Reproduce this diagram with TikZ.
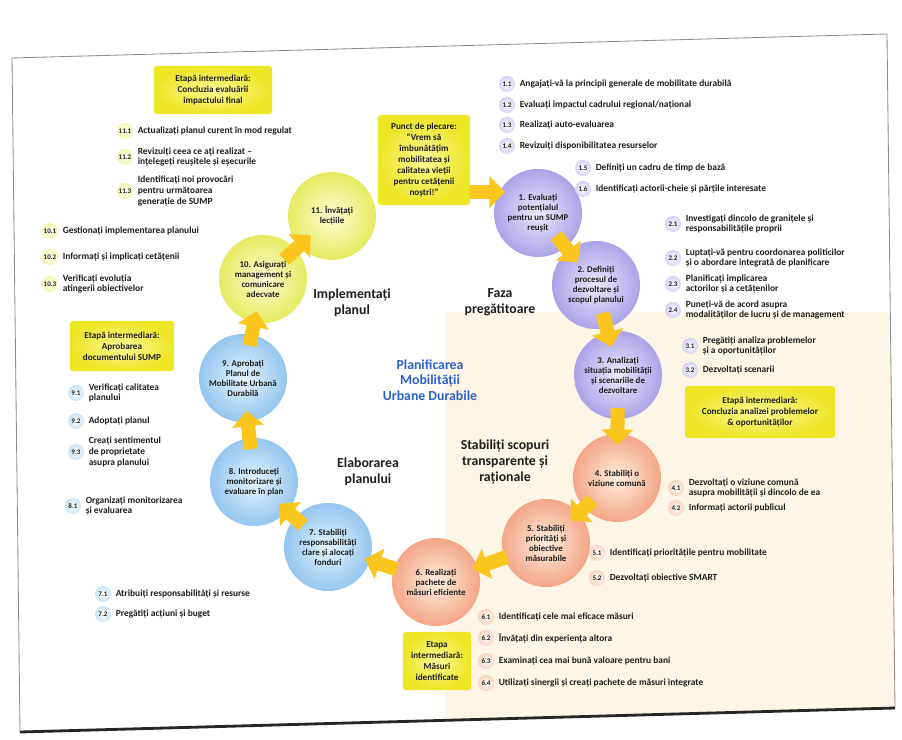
\documentclass[tikz,border=0pt]{standalone}
\usepackage{fontspec}
\setmainfont{Carlito}
\usetikzlibrary{arrows.meta}
\usetikzlibrary{shapes}
\usetikzlibrary{arrows,positioning}

\definecolor{prepOuter}{RGB}{172,162,232}
\definecolor{prepInner}{RGB}{236,233,252}
\definecolor{goalOuter}{RGB}{244,166,134}
\definecolor{goalInner}{RGB}{255,238,224}
\definecolor{elabOuter}{RGB}{148,198,240}
\definecolor{elabInner}{RGB}{230,243,253}
\definecolor{implOuter}{RGB}{230,234,96}
\definecolor{implInner}{RGB}{252,252,212}
\definecolor{noteOuter}{RGB}{236,230,36}
\definecolor{noteInner}{RGB}{250,248,150}
\definecolor{arrowYellow}{RGB}{250,198,30}
\definecolor{cream}{RGB}{253,245,230}
\definecolor{titleBlue}{RGB}{45,95,205}
\definecolor{inkGray}{RGB}{30,30,30}

\tikzset{%
  % Specifications for style of nodes:
          stage/.style = {circle, minimum size=2.2cm, inner sep=1pt,
                          align=center, text=inkGray,
                          font=\fontsize{6.3}{7.1}\selectfont\bfseries},
      stagePrep/.style = {stage, inner color=prepInner, outer color=prepOuter},
      stageGoal/.style = {stage, inner color=goalInner, outer color=goalOuter},
      stageElab/.style = {stage, inner color=elabInner, outer color=elabOuter},
      stageImpl/.style = {stage, inner color=implInner, outer color=implOuter},
          badge/.style = {circle, minimum size=0.4cm, inner sep=0pt, text=inkGray,
                          font=\fontsize{5}{5.5}\selectfont\bfseries},
      badgePrep/.style = {badge, inner color=white, outer color=prepInner!65!prepOuter},
      badgeGoal/.style = {badge, inner color=white, outer color=goalInner!65!goalOuter},
      badgeElab/.style = {badge, inner color=white, outer color=elabInner!65!elabOuter},
      badgeImpl/.style = {badge, inner color=white, outer color=implInner!65!implOuter},
        subtext/.style = {align=left, inner sep=1pt, text=inkGray,
                          font=\fontsize{6.7}{7.6}\selectfont\bfseries},
           note/.style = {rectangle, rounded corners=2pt, align=center, text=inkGray,
                          inner color=noteInner, outer color=noteOuter,
                          font=\fontsize{6.5}{7.8}\selectfont\bfseries},
          phase/.style = {align=center, text=inkGray,
                          font=\fontsize{9.8}{11.2}\selectfont\bfseries},
           flow/.style = {draw=arrowYellow, line width=10pt,
                          -{Triangle[width=22pt,length=11pt]},
                          shorten <=-8pt, shorten >=-8pt},
}

\begin{document}
\begin{tikzpicture}[x=0.025cm, y=-0.025cm]

\useasboundingbox (0,0) rectangle (902,740);
\fill[white] (0,0) rectangle (902,740);

% scanned page
\begin{scope}
  \clip (12,58) -- (887,34) -- (895,708) -- (20,732) -- cycle;
  \fill[cream] (445,312) rectangle (902,740);
\end{scope}
\draw[black!45, line width=0.6pt] (12,58) -- (887,34) -- (895,708) -- (20,732) -- cycle;
\draw[black!85, line width=2pt] (20,732) -- (895,708);

% cycle of stages
\node (P1)  [stagePrep] at (538,213) {1. Evaluați\\potențialul\\pentru un SUMP\\reușit};
\node (P2)  [stagePrep] at (596,285) {2. Definiți\\procesul de\\dezvoltare și\\scopul planului};
\node (P3)  [stagePrep] at (618,375) {3. Analizați\\situația mobilității\\și scenariile de\\dezvoltare};
\node (P4)  [stageGoal] at (617,478) {4. Stabiliți o\\viziune comună};
\node (P5)  [stageGoal] at (546,543) {5. Stabiliți\\priorități și\\obiective\\măsurabile};
\node (P6)  [stageGoal] at (436,582) {6. Realizați\\pachete de\\măsuri eficiente};
\node (P7)  [stageElab] at (328,547) {7. Stabiliți\\responsabilități\\clare și alocați\\fonduri};
\node (P8)  [stageElab] at (254,482) {8. Introduceți\\monitorizare și\\evaluare în plan};
\node (P9)  [stageElab] at (243,378) {9. Aprobați\\Planul de\\Mobilitate Urbană\\Durabilă};
\node (P10) [stageImpl] at (263,279) {10. Asigurați\\management și\\comunicare\\adecvate};
\node (P11) [stageImpl] at (332,216) {11. Învățați\\lecțiile};

% phases
\node (Impl)   [phase] at (352,303) {Implementați\\planul};
\node (Prep)   [phase] at (500,302) {Faza\\pregătitoare};
\node (Title)  [phase, text=titleBlue] at (430,380) {Planificarea\\Mobilității\\Urbane Durabile};
\node (Goal)   [phase] at (505,462) {Stabiliți scopuri\\transparente și\\raționale};
\node (Elab)   [phase] at (368,472) {Elaborarea\\planului};

% milestones
\node (Start) [note, minimum width=2.3cm, minimum height=2.25cm] at (424,160)
      {Punct de plecare:\\``Vrem să\\îmbunătățim\\mobilitatea și\\calitatea vieții\\pentru cetățenii\\noștri!''};
\node (N11) [note, minimum width=2.95cm, minimum height=1.2cm] at (213,90)
      {Etapă intermediară:\\Concluzia evaluării\\impactului final};
\node (N9)  [note, minimum width=2.6cm, minimum height=1.25cm] at (122,346)
      {Etapă intermediară:\\Aprobarea\\documentului SUMP};
\node (N3)  [note, minimum width=3.75cm, minimum height=1.3cm] at (760,412)
      {Etapă intermediară:\\Concluzia analizei problemelor\\\& oportunităților};
\node (N6)  [note, minimum width=1.7cm, minimum height=1.45cm] at (437,661)
      {Etapa\\intermediară:\\Măsuri\\identificate};

% activities of phase 1
\node (B11) [badgePrep] at (507,84)  {1.1};
\node (T11) [subtext, right=2pt of B11] {Angajați-vă la principii generale de mobilitate durabilă};
\node (B12) [badgePrep] at (507,105) {1.2};
\node (T12) [subtext, right=2pt of B12] {Evaluați impactul cadrului regional/național};
\node (B13) [badgePrep] at (507,125) {1.3};
\node (T13) [subtext, right=2pt of B13] {Realizați auto-evaluarea};
\node (B14) [badgePrep] at (507,146) {1.4};
\node (T14) [subtext, right=2pt of B14] {Revizuiți disponibilitatea resurselor};
\node (B15) [badgePrep] at (583,168) {1.5};
\node (T15) [subtext, right=2pt of B15] {Definiți un cadru de timp de bază};
\node (B16) [badgePrep] at (583,189) {1.6};
\node (T16) [subtext, right=2pt of B16] {Identificați actorii-cheie și părțile interesate};
\node (B21) [badgePrep] at (673,224) {2.1};
\node (T21) [subtext, right=2pt of B21] {Investigați dincolo de granițele și\\responsabilitățile proprii};
\node (B22) [badgePrep] at (673,258) {2.2};
\node (T22) [subtext, right=2pt of B22] {Luptați-vă pentru coordonarea politicilor\\și o abordare integrată de planificare};
\node (B23) [badgePrep] at (673,284) {2.3};
\node (T23) [subtext, right=2pt of B23] {Planificați implicarea\\actorilor și a cetățenilor};
\node (B24) [badgePrep] at (673,310) {2.4};
\node (T24) [subtext, right=2pt of B24] {Puneți-vă de acord asupra\\modalităților de lucru și de management};
\node (B31) [badgePrep] at (690,346) {3.1};
\node (T31) [subtext, right=2pt of B31] {Pregătiți analiza problemelor\\și a oportunităților};
\node (B32) [badgePrep] at (690,370) {3.2};
\node (T32) [subtext, right=2pt of B32] {Dezvoltați scenarii};

% activities of phase 2
\node (B41) [badgeGoal] at (676,488) {4.1};
\node (T41) [subtext, right=2pt of B41] {Dezvoltați o viziune comună\\asupra mobilității și dincolo de ea};
\node (B42) [badgeGoal] at (676,508) {4.2};
\node (T42) [subtext, right=2pt of B42] {Informați actorii publicul};
\node (B51) [badgeGoal] at (597,553) {5.1};
\node (T51) [subtext, right=2pt of B51] {Identificați prioritățile pentru mobilitate};
\node (B52) [badgeGoal] at (597,578) {5.2};
\node (T52) [subtext, right=2pt of B52] {Dezvoltați obiective SMART};
\node (B61) [badgeGoal] at (486,617) {6.1};
\node (T61) [subtext, right=2pt of B61] {Identificați cele mai eficace măsuri};
\node (B62) [badgeGoal] at (486,638) {6.2};
\node (T62) [subtext, right=2pt of B62] {Învățați din experiența altora};
\node (B63) [badgeGoal] at (486,661) {6.3};
\node (T63) [subtext, right=2pt of B63] {Examinați cea mai bună valoare pentru bani};
\node (B64) [badgeGoal] at (486,683) {6.4};
\node (T64) [subtext, right=2pt of B64] {Utilizați sinergii și creați pachete de măsuri integrate};

% activities of phase 3
\node (B71) [badgeElab] at (103,594) {7.1};
\node (T71) [subtext, right=2pt of B71] {Atribuiți responsabilități și resurse};
\node (B72) [badgeElab] at (103,614) {7.2};
\node (T72) [subtext, right=2pt of B72] {Pregătiți acțiuni și buget};
\node (B81) [badgeElab] at (73,506)  {8.1};
\node (T81) [subtext, right=2pt of B81] {Organizați monitorizarea\\și evaluarea};
\node (B91) [badgeElab] at (76,393)  {9.1};
\node (T91) [subtext, right=2pt of B91] {Verificați calitatea\\planului};
\node (B92) [badgeElab] at (76,421)  {9.2};
\node (T92) [subtext, right=2pt of B92] {Adoptați planul};
\node (B93) [badgeElab] at (76,452)  {9.3};
\node (T93) [subtext, right=2pt of B93] {Creați sentimentul\\de proprietate\\asupra planului};

% activities of phase 4
\node (B101) [badgeImpl] at (50,231)  {10.1};
\node (T101) [subtext, right=2pt of B101] {Gestionați implementarea planului};
\node (B102) [badgeImpl] at (50,257)  {10.2};
\node (T102) [subtext, right=2pt of B102] {Informați și implicați cetățenii};
\node (B103) [badgeImpl] at (50,284)  {10.3};
\node (T103) [subtext, right=2pt of B103] {Verificați evoluția\\atingerii obiectivelor};
\node (B111) [badgeImpl] at (125,131) {11.1};
\node (T111) [subtext, right=2pt of B111] {Actualizați planul curent în mod regulat};
\node (B112) [badgeImpl] at (125,157) {11.2};
\node (T112) [subtext, right=2pt of B112] {Revizuiți ceea ce ați realizat –\\înțelegeți reușitele și eșecurile};
\node (B113) [badgeImpl] at (125,191) {11.3};
\node (T113) [subtext, right=2pt of B113] {Identificați noi provocări\\pentru următoarea\\generație de SUMP};

% arrows round the cycle
\draw[flow, shorten <=0pt] ([yshift=-0.8cm]Start.east) -- ([yshift=-0.8cm]Start.east -| P1.west);
\draw[flow, shorten <=-11pt, shorten >=-11pt] (P1)  -- (P2);
\draw[flow, shorten <=-11pt, shorten >=-11pt] (P2)  -- (P3);
\draw[flow] (P3)  -- (P4);
\draw[flow] (P4)  -- (P5);
\draw[flow, shorten <=-2pt, shorten >=-4pt] (P5)  -- (P6);
\draw[flow, shorten <=-2pt, shorten >=-4pt] (P6)  -- (P7);
\draw[flow] (P7)  -- (P8);
\draw[flow] (P8)  -- (P9);
\draw[flow] (P9)  -- (P10);
\draw[flow, shorten <=-11pt, shorten >=-11pt] (P10) -- (P11);
\end{tikzpicture}
\end{document}
